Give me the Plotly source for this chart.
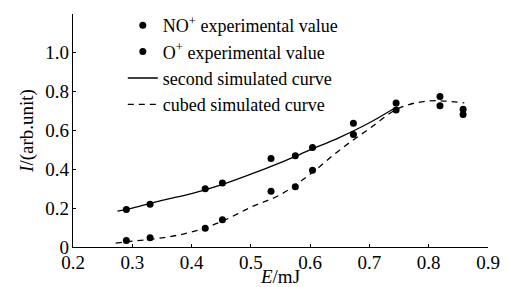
import plotly.graph_objects as go

E_exp = [0.29, 0.33, 0.423, 0.452, 0.534, 0.575, 0.604, 0.673, 0.745, 0.819, 0.858]
NO_exp = [0.193, 0.22, 0.30, 0.33, 0.456, 0.47, 0.513, 0.637, 0.741, 0.775, 0.71]
O_exp = [0.033, 0.047, 0.097, 0.14, 0.287, 0.31, 0.395, 0.58, 0.705, 0.728, 0.682]

# Simulated curves
E_second = [0.275, 0.30, 0.35, 0.40, 0.45, 0.50, 0.55, 0.60, 0.65, 0.70, 0.745]
I_second = [0.185, 0.20, 0.24, 0.275, 0.32, 0.375, 0.435, 0.50, 0.565, 0.64, 0.72]
E_cubed = [0.272, 0.30, 0.35, 0.40, 0.45, 0.50, 0.55, 0.60, 0.65, 0.70, 0.75, 0.80, 0.86]
I_cubed = [0.02, 0.03, 0.047, 0.077, 0.13, 0.205, 0.27, 0.375, 0.50, 0.61, 0.715, 0.752, 0.742]

x_ticks = [0.2, 0.3, 0.4, 0.5, 0.6, 0.7, 0.8, 0.9]
x_labels = ["0.2", "0.3", "0.4", "0.5", "0.6", "0.7", "0.8", "0.9"]
y_ticks = [0, 0.2, 0.4, 0.6, 0.8, 1.0, 1.2]
y_labels = ["0", "0.2", "0.4", "0.6", "0.8", "1.0", ""]

FONT = "Liberation Serif, Times New Roman, serif"

fig = go.Figure()
fig.add_trace(go.Scatter(x=E_exp, y=NO_exp, mode="markers",
                         marker=dict(color="black", size=7),
                         name="NO<sup>+</sup> experimental value"))
fig.add_trace(go.Scatter(x=E_exp, y=O_exp, mode="markers",
                         marker=dict(color="black", size=7),
                         name="O<sup>+</sup> experimental value"))
fig.add_trace(go.Scatter(x=E_second, y=I_second, mode="lines",
                         line=dict(color="black", width=1.3, shape="spline"),
                         name="second simulated curve"))
fig.add_trace(go.Scatter(x=E_cubed, y=I_cubed, mode="lines",
                         line=dict(color="black", width=1.3, shape="spline", dash="6px,5px"),
                         name="cubed simulated curve"))

fig.update_layout(
    width=507, height=287,
    margin=dict(l=73, r=19, t=14, b=40, autoexpand=False),
    paper_bgcolor="white", plot_bgcolor="white",
    font=dict(family=FONT, size=19, color="black"),
    showlegend=True,
    legend=dict(x=0.12, y=1.03, xanchor="left", yanchor="top",
                bgcolor="rgba(0,0,0,0)", font=dict(family=FONT, size=18),
                tracegroupgap=0, itemwidth=30),
    xaxis=dict(range=[0.2, 0.9], tickvals=x_ticks, ticktext=x_labels,
               showline=True, linecolor="black", linewidth=1.2,
               ticks="inside", ticklen=3, tickcolor="black",
               ticklabelstandoff=-2,
               showgrid=False, zeroline=False, automargin=False,
               title=dict(text="<i>E</i>/mJ", standoff=0, font=dict(size=19))),
    yaxis=dict(range=[0, 1.2], tickvals=y_ticks, ticktext=y_labels,
               showline=True, linecolor="black", linewidth=1.2,
               ticks="inside", ticklen=3, tickcolor="black",
               ticklabelstandoff=-1,
               showgrid=False, zeroline=False, automargin=False,
               title=dict(text="<i>I</i>/(arb.unit)", standoff=6, font=dict(size=19))),
)

fig.write_html("out.html", config={"displayModeBar": False},
               post_script="document.body.style.margin='0';")
